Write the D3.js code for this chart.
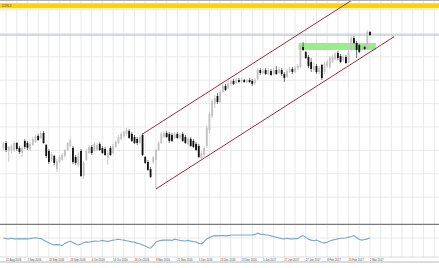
<!DOCTYPE html>
<html>
<head>
<meta charset="utf-8">
<script src="https://cdnjs.cloudflare.com/ajax/libs/d3/7.8.5/d3.min.js"></script>
<style>
  body { margin: 0; background: #fff; }
  svg { display: block; font-family: "Liberation Sans", Arial, sans-serif; }
</style>
</head>
<body>
<script>
    // daily candles, oldest first (last bar = 2 Mar 2017)
    let open = [10776,10829,10744,10754,10754,10829,10776,10722,10851,10829,
        10765,10808,10840,10904,10883,10936,10808,10744,10648,10690,
        10551,10626,10648,10690,10754,10797,10776,10680,10594,10744,
        10477,10648,10722,10787,10744,10754,10819,10776,10765,10669,
        10776,10722,10787,10829,10872,10904,10926,10958,10926,10893,
        10872,10829,10915,10680,10626,10551,10626,10648,10754,10829,
        10893,10936,10926,10915,10883,10926,10883,10926,10893,10819,
        10872,10851,10819,10797,10669,10701,10797,10968,11118,11246,
        11331,11267,11374,11438,11417,11460,11492,11470,11502,11481,
        11502,11481,11502,11492,11470,11513,11609,11577,11609,11566,
        11598,11566,11609,11577,11609,11566,11534,11588,11620,11588,
        11630,11641,11855,11801,11748,11695,11609,11652,11588,11663,
        11588,11652,11641,11695,11727,11791,11759,11716,11748,11695,
        11823,11951,11898,11876,11823,11855,11844,12015];
    let high = [10840,10851,10797,10819,10851,10840,10797,10797,10872,10851,
        10840,10893,10915,10926,10958,10958,10819,10765,10733,10701,
        10658,10701,10722,10765,10840,10883,10797,10701,10733,10765,
        10637,10765,10808,10808,10840,10829,10840,10797,10787,10744,
        10797,10819,10861,10915,10947,10958,10990,10979,10947,10915,
        10893,10915,10936,10690,10648,10573,10690,10765,10851,10947,
        10958,10958,10947,10936,10947,10947,10936,10947,10915,10893,
        10893,10872,10840,10819,10744,10797,11011,11160,11299,11342,
        11363,11395,11460,11460,11492,11502,11513,11524,11524,11524,
        11513,11513,11524,11513,11524,11630,11630,11620,11630,11630,
        11620,11630,11652,11641,11630,11588,11620,11641,11641,11652,
        11673,11876,11908,11812,11769,11737,11684,11673,11652,11673,
        11695,11716,11759,11769,11801,11812,11780,11769,11769,11823,
        11972,11972,11919,11887,11866,11866,12036,12026];
    let low = [10754,10733,10626,10722,10733,10744,10712,10680,10765,10754,
        10744,10797,10829,10851,10872,10819,10669,10605,10626,10594,
        10519,10616,10637,10669,10744,10787,10605,10594,10573,10466,
        10445,10637,10712,10701,10733,10744,10744,10712,10690,10594,
        10690,10712,10776,10819,10861,10883,10904,10872,10840,10819,
        10808,10819,10690,10605,10530,10455,10605,10338,10744,10819,
        10883,10883,10829,10840,10872,10872,10872,10840,10819,10797,
        10787,10776,10744,10669,10648,10680,10776,10936,11096,11203,
        11246,11257,11363,11385,11406,11438,11449,11460,11470,11470,
        11470,11470,11470,11438,11449,11502,11556,11566,11556,11556,
        11545,11556,11556,11566,11545,11481,11524,11577,11566,11577,
        11609,11630,11812,11727,11630,11588,11588,11566,11566,11502,
        11566,11630,11620,11684,11716,11716,11684,11695,11673,11684,
        11812,11887,11737,11791,11812,11823,11834,11972];
    let close = [10829,10754,10787,10797,10829,10765,10733,10776,10787,10776,
        10819,10872,10904,10861,10936,10829,10690,10626,10712,10616,
        10637,10680,10701,10754,10829,10861,10626,10616,10690,10477,
        10616,10744,10787,10722,10819,10808,10754,10722,10701,10722,
        10701,10797,10840,10893,10926,10947,10968,10883,10851,10829,
        10829,10893,10701,10616,10541,10466,10680,10754,10829,10926,
        10936,10893,10851,10851,10926,10883,10915,10851,10829,10872,
        10797,10787,10754,10680,10722,10776,10990,11139,11278,11310,
        11267,11374,11438,11395,11470,11492,11460,11502,11481,11502,
        11481,11502,11481,11460,11502,11609,11577,11598,11566,11609,
        11556,11609,11566,11620,11566,11524,11598,11620,11588,11630,
        11652,11844,11823,11737,11652,11620,11652,11588,11630,11524,
        11673,11695,11737,11748,11780,11737,11695,11748,11684,11801,
        11951,11898,11823,11801,11855,11834,12015,11983];

    // oscillator in the lower window, one value per bar
    let osc = [60,58,57,59,57,57,58,57,58,57,
        58,60,61,59,58,53,48,44,40,37,
        38,37,35,42,47,49,45,40,37,40,
        45,47,46,48,50,49,50,52,50,48,
        51,53,54,56,54,53,51,49,47,46,
        43,41,37,33,28,26,35,47,50,52,
        53,53,53,52,56,54,52,51,50,52,
        50,48,47,42,40,48,57,62,66,68,
        67,68,68,67,68,69,70,70,70,70,
        70,70,70,70,72,76,73,72,70,70,
        67,65,62,60,58,57,59,57,57,58,
        58,64,68,62,56,53,51,53,49,45,
        43,46,50,53,55,57,59,59,60,63,
        65,68,61,55,53,55,57,61];

    // time axis labels, one every 8 bars, the last one on the last bar
    let tickDates = ["10 Aug 2016","22 Aug 2016","1 Sep 2016","13 Sep 2016","23 Sep 2016",
        "4 Oct 2016","14 Oct 2016","26 Oct 2016","8 Nov 2016","21 Nov 2016","1 Dec 2016",
        "13 Dec 2016","23 Dec 2016","5 Jan 2017","17 Jan 2017","27 Jan 2017",
        "8 Feb 2017","20 Feb 2017","2 Mar 2017"];

    let priceGrid = [12250,12000,11750,11500,11250,11000,10750,10500,10250];

    // drawn objects: [bar, price] anchors
    let lowerChannel = [[57,10338],[146,11965]];
    let upperChannel = [[52,10925],[140,12534]];
    let zoneBars = [110.3,139.2];
    let zonePrices = [11823,11898];
    let yellowLevel = 12296.3;
    let bidPrice = close[close.length-1];

    let W = 439, H = 268;
    let last = close.length - 1;

    let svg = d3.select("body").append("svg")
        .attr("width", W)
        .attr("height", H);

    svg.append("rect").attr("width", W).attr("height", H).attr("fill", "#fff");

    let x = d3.scaleLinear().domain([0,last]).range([3.4,370]);
    let y = d3.scaleLinear().domain([10250,12250]).range([197.2,10]);
    let yOsc = d3.scaleLinear().domain([0,100]).range([256,226]);

    let mainTop = 1, mainBottom = 223.5, subBottom = 257;

    svg.append("clipPath").attr("id","mainClip")
        .append("rect").attr("x",0).attr("y",mainTop).attr("width",W).attr("height",mainBottom-mainTop);

    //grid
    let grid = svg.append("g").attr("stroke","#e3e3e3").attr("stroke-width",0.8);
    d3.range(-3, 164, 4).forEach(b => {
        grid.append("line")
            .attr("x1",x(b)).attr("x2",x(b))
            .attr("y1",mainTop).attr("y2",subBottom);
    });
    priceGrid.forEach(p => {
        grid.append("line")
            .attr("x1",0).attr("x2",W)
            .attr("y1",y(p)).attr("y2",y(p));
    });
    grid.append("line").attr("x1",0).attr("x2",W)
        .attr("y1",yOsc(60)).attr("y2",yOsc(60));

    let main = svg.append("g").attr("clip-path","url(#mainClip)");

    //support zone
    main.append("rect")
        .attr("x",x(zoneBars[0]))
        .attr("width",x(zoneBars[1])-x(zoneBars[0]))
        .attr("y",y(zonePrices[1]))
        .attr("height",y(zonePrices[0])-y(zonePrices[1]))
        .attr("fill","#9ceb8f");

    //yellow level
    main.append("line")
        .attr("x1",0).attr("x2",W)
        .attr("y1",y(yellowLevel)).attr("y2",y(yellowLevel))
        .attr("stroke","#ffd200").attr("stroke-width",5);
    main.append("line")
        .attr("x1",0).attr("x2",W)
        .attr("y1",y(yellowLevel)+3.3).attr("y2",y(yellowLevel)+3.3)
        .attr("stroke","#fff4b8").attr("stroke-width",1.6);
    svg.append("text")
        .attr("x",1.5).attr("y",y(yellowLevel)+1)
        .attr("font-size",2.7).attr("fill","#5a4a00")
        .text(yellowLevel.toFixed(1));

    //bid line
    main.append("line")
        .attr("x1",0).attr("x2",W)
        .attr("y1",y(bidPrice)).attr("y2",y(bidPrice))
        .attr("stroke","#a9b8c8").attr("stroke-width",1.2);

    //candles
    let bw = 1.8;
    close.forEach((c,i) => {
        let up = c >= open[i];
        main.append("line")
            .attr("x1",x(i)).attr("x2",x(i))
            .attr("y1",y(high[i])).attr("y2",y(low[i]))
            .attr("stroke", up ? "#b4b4b4" : "#3a3a3a")
            .attr("stroke-width",0.7);
        let top = y(Math.max(open[i],c));
        let h = Math.max(0.7, Math.abs(y(open[i])-y(c)));
        main.append("rect")
            .attr("x",x(i)-bw/2).attr("width",bw)
            .attr("y",top).attr("height",h)
            .attr("fill", up ? "#c2c2c2" : "#111");
    });

    //channel lines
    let line = d3.line().x(d=>x(d[0])).y(d=>y(d[1]));
    [lowerChannel, upperChannel].forEach(ch => {
        main.append("path")
            .datum(ch)
            .attr("d",line)
            .attr("fill","none")
            .attr("stroke","#93303f")
            .attr("stroke-width",1);
    });

    //window borders
    svg.append("line").attr("x1",0).attr("x2",W).attr("y1",0.5).attr("y2",0.5)
        .attr("stroke","#b0b0b0").attr("stroke-width",1);
    svg.append("line").attr("x1",0).attr("x2",W).attr("y1",224.3).attr("y2",224.3)
        .attr("stroke","#7a7a7a").attr("stroke-width",1.3);

    //oscillator
    svg.append("path")
        .datum(osc)
        .attr("d", d3.line().x((d,i)=>x(i)).y(d=>yOsc(d)))
        .attr("fill","none")
        .attr("stroke","#78a8ca")
        .attr("stroke-width",1.1);

    //time axis
    svg.append("line").attr("x1",0).attr("x2",W).attr("y1",subBottom).attr("y2",subBottom)
        .attr("stroke","#c8c8c8").attr("stroke-width",0.6);
    tickDates.forEach((t,k) => {
        let b = last - 8*(tickDates.length-1-k);
        svg.append("text")
            .attr("x",x(b)).attr("y",261)
            .attr("font-size",2.7)
            .attr("fill","#444")
            .text(t);
    });
    svg.append("line").attr("x1",0).attr("x2",W).attr("y1",262).attr("y2",262)
        .attr("stroke","#9a9a9a").attr("stroke-width",0.7);
</script>
</body>
</html>
